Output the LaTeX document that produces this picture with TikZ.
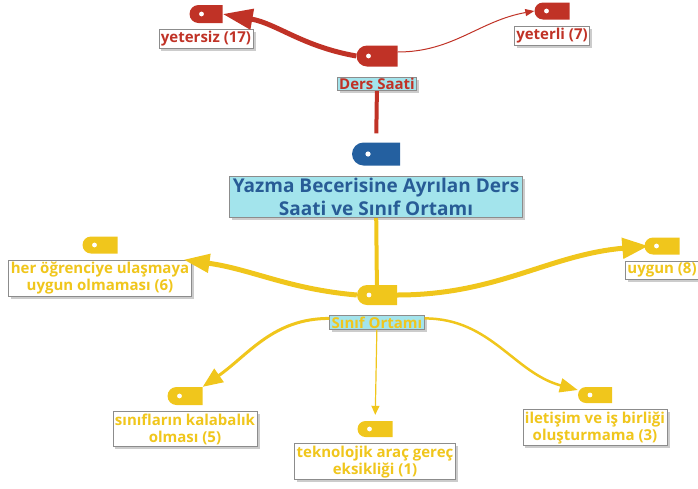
\documentclass[tikz,border=0pt]{standalone}
\usepackage{fontspec}
\setmainfont{Open Sans}
\usetikzlibrary{arrows.meta, positioning, shapes.misc, shadows}
\definecolor{redline}{RGB}{192,50,38}
\definecolor{bluetag}{RGB}{36,96,160}
\definecolor{titletext}{RGB}{40,92,150}
\definecolor{yelline}{RGB}{240,198,28}
\definecolor{cyanfill}{RGB}{163,228,236}
\definecolor{boxline}{RGB}{140,140,140}

\begin{document}
\begin{tikzpicture}[
  x=1pt, y=-1pt,
  font=\bfseries\fontsize{15}{17}\selectfont,
  tag/.style={rounded rectangle, rounded rectangle right arc=none, inner sep=0pt,
              minimum width=35pt, minimum height=17pt,
              path picture={\fill[white] ([xshift=12pt]path picture bounding box.west) circle (2.4pt);}},
  bigtag/.style={tag, minimum width=41pt, minimum height=21pt},
  lbl/.style={draw=boxline, fill=white, align=center, inner xsep=2pt, inner ysep=2pt, line width=0.8pt,
              drop shadow={shadow xshift=2.5pt, shadow yshift=-2.5pt, opacity=0.4}},
  topic/.style={lbl, fill=cyanfill},
  thick red/.style={redline, line width=5pt},
  node distance=6pt,
]
\useasboundingbox (0,0) rectangle (698,488);

% root
\node[bigtag, fill=bluetag, minimum width=48pt, minimum height=23pt,
      path picture={\fill[white] ([xshift=16pt]path picture bounding box.west) circle (2.6pt);}]
  (roottag) at (376,154) {};
\node[topic, below=10pt of roottag, text=titletext, inner xsep=3pt,
      font=\bfseries\fontsize{19}{23}\selectfont] (root) {Yazma Becerisine Ayrılan Ders\\Saati ve Sınıf Ortamı};

% Ders Saati branch
\node[bigtag, fill=redline] (dstag) at (377,56) {};
\node[topic, below=10pt of dstag, text=redline, inner ysep=1pt] (ds) {Ders Saati};
\node[tag, fill=redline, minimum width=33pt, minimum height=18pt] (yztag) at (206,14) {};
\node[lbl, below=of yztag, text=redline] (yz) {yetersiz (17)};
\node[tag, fill=redline] (yltag) at (552,11) {};
\node[lbl, below=of yltag, text=redline] (yl) {yeterli (7)};

% Sinif Ortami branch
\node[bigtag, fill=yelline, minimum width=40pt, minimum height=20pt] (sotag) at (377,295) {};
\node[topic, below=10pt of sotag, text=yelline, inner ysep=1pt] (so) {Sınıf Ortamı};
\node[tag, fill=yelline] (hertag) at (100,245) {};
\node[lbl, below=of hertag, text=yelline] (her) {her öğrenciye ulaşmaya\\uygun olmaması (6)};
\node[tag, fill=yelline] (uytag) at (662,246) {};
\node[lbl, below=of uytag, text=yelline] (uy) {uygun (8)};
\node[tag, fill=yelline, minimum height=18pt] (sitag) at (185,396) {};
\node[lbl, below=of sitag, text=yelline] (si) {sınıfların kalabalık\\olması (5)};
\node[tag, fill=yelline, minimum height=16pt] (tektag) at (375,429) {};
\node[lbl, below=of tektag, text=yelline] (tek) {teknolojik araç gereç\\eksikliği (1)};
\node[tag, fill=yelline, minimum width=34pt, minimum height=16pt] (iltag) at (595,395) {};
\node[lbl, below=of iltag, text=yelline] (il) {iletişim ve iş birliği\\oluşturmama (3)};

% connectors
\draw[redline, line width=4pt, shorten >=9pt] (ds) -- (roottag);
\draw[thick red, -{Triangle[length=30pt,width=20pt]}] (dstag.west) to[out=170,in=-10] (yztag.east);
\draw[redline, line width=1pt, -{Triangle[length=9pt,width=7pt]}] ([yshift=4pt]dstag.east) to[out=0,in=190] (yltag.west);

\draw[yelline, line width=4pt] (root) -- (sotag);
\draw[yelline, line width=5pt, -{Triangle[length=26pt,width=18pt]}] (sotag.west) to[out=175,in=-8] ([xshift=-8pt]her.north east);
\draw[yelline, line width=5pt, -{Triangle[length=26pt,width=20pt]}] (sotag.east) to[out=0,in=185] ([xshift=4pt]uytag.west);
\draw[yelline, line width=3pt, -{Triangle[length=20pt,width=16pt]}] ([yshift=4pt]so.west) to[out=180,in=35] (sitag.north east);
\draw[yelline, line width=1.2pt, -{Triangle[length=9pt,width=8pt]}, shorten >=6pt] (so) -- (tektag);
\draw[yelline, line width=2.5pt, -{Triangle[length=18pt,width=14pt]}] ([yshift=4pt]so.east) to[out=0,in=165] ([yshift=5pt]iltag.west);
\end{tikzpicture}
\end{document}
